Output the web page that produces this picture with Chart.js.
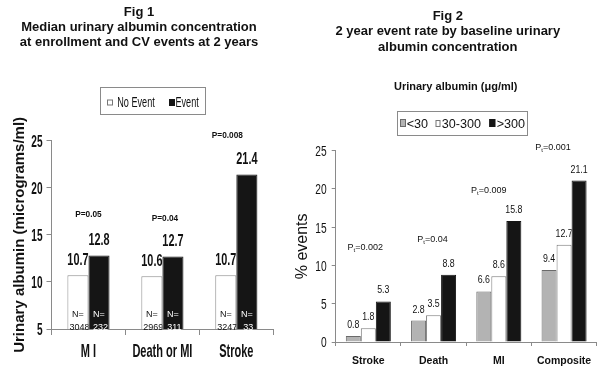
<!DOCTYPE html>
<html>
<head>
<meta charset="utf-8">
<script src="https://cdn.jsdelivr.net/npm/chart.js@4/dist/chart.umd.min.js"></script>
<style>
  html, body { margin: 0; padding: 0; background: #fff; }
  #wrap { position: relative; width: 601px; height: 371px; overflow: hidden; background: #fff; }
  #fig1 { position: absolute; left: 0; top: 0; }
  #fig2 { position: absolute; left: 285px; top: 0; }
</style>
</head>
<body>
<div id="wrap">
  <canvas id="fig1" width="300" height="371"></canvas>
  <canvas id="fig2" width="316" height="371"></canvas>
</div>
<script>
// ---- Fig 1: median urinary albumin by outcome ----
const fig1Title = ['Fig 1', 'Median urinary albumin concentration', 'at enrollment and CV events at 2 years'];
const fig1Categories = ['M I', 'Death or MI', 'Stroke'];
const fig1SeriesNames = ['No Event', 'Event'];
const fig1NoEvent = [10.7, 10.6, 10.7];
const fig1Event = [12.8, 12.7, 21.4];
const fig1NoEventN = ['3048', '2969', '3247'];
const fig1EventN = ['232', '311', '33'];
const fig1PValues = ['P=0.05', 'P=0.04', 'P=0.008'];
const fig1Ticks = [5, 10, 15, 20, 25];

// ---- Fig 2: 2-year event rate by baseline urinary albumin ----
const fig2Title = ['Fig 2', '2 year event rate by baseline urinary', 'albumin concentration'];
const fig2LegendTitle = 'Urinary albumin (\u03bcg/ml)';
const fig2Categories = ['Stroke', 'Death', 'MI', 'Composite'];
const fig2SeriesNames = ['<30', '30-300', '>300'];
const fig2Low = [0.8, 2.8, 6.6, 9.4];
const fig2Mid = [1.8, 3.5, 8.6, 12.7];
const fig2High = [5.3, 8.8, 15.8, 21.1];
const fig2PTrend = ['0.002', '0.04', '0.009', '0.001'];
const fig2Ticks = [0, 5, 10, 15, 20, 25];

// where the p-value notes sit (axis units) and their sideways nudge (px)
const fig1PAnchor = [{ y: 17.2, dx: 0 }, { y: 16.8, dx: 2.5 }, { y: 25.6, dx: -9 }];
const fig2PAnchor = [{ y: 12.4, dx: -3 }, { y: 13.5, dx: -1 }, { y: 19.9, dx: -10 }, { y: 25.5, dx: -11 }];

const FONT = '"Liberation Sans", Arial, Helvetica, sans-serif';
const AXIS = '#8a8a8a';
const INK = '#111';

function text(ctx, str, x, y, opts) {
  const o = Object.assign({ size: 12, weight: 'normal', color: INK, align: 'center', baseline: 'alphabetic', sx: 1 }, opts);
  ctx.save();
  ctx.font = o.weight + ' ' + o.size + 'px ' + FONT;
  ctx.fillStyle = o.color;
  ctx.textAlign = o.align;
  ctx.textBaseline = o.baseline;
  ctx.translate(x, y);
  ctx.scale(o.sx, 1);
  ctx.fillText(str, 0, 0);
  ctx.restore();
}

// visible bottom of a bar (bars rest on the axis floor)
function barFloor(chart, b) {
  return Math.min(b.base, chart.chartArea.bottom);
}

// value labels of one series are hidden behind the bars drawn to their right
function clipOutLaterBars(ctx, chart, di, i) {
  ctx.beginPath();
  ctx.rect(0, 0, chart.width, chart.height);
  for (let j = di + 1; j < chart.data.datasets.length; j++) {
    const b = chart.getDatasetMeta(j).data[i];
    ctx.rect(b.x - b.width / 2, b.y, b.width, barFloor(chart, b) - b.y);
  }
  ctx.clip('evenodd');
}

function swatch(ctx, x, y, w, h, fill, stroke) {
  ctx.save();
  ctx.fillStyle = fill;
  ctx.fillRect(x, y, w, h);
  ctx.strokeStyle = stroke;
  ctx.lineWidth = 1;
  ctx.strokeRect(x + 0.5, y + 0.5, w - 1, h - 1);
  ctx.restore();
}

function pTrendLabel(ctx, value, cx, baseY) {
  ctx.save();
  ctx.fillStyle = INK;
  ctx.textAlign = 'left';
  ctx.textBaseline = 'alphabetic';
  const big = 'normal 9px ' + FONT, small = 'normal 6px ' + FONT;
  ctx.font = big; const wP = ctx.measureText('P').width;
  const rest = '=' + value; const wR = ctx.measureText(rest).width;
  ctx.font = small; const wT = ctx.measureText('t').width;
  let x = cx - (wP + wT + wR) / 2;
  ctx.font = big; ctx.fillText('P', x, baseY); x += wP;
  ctx.font = small; ctx.fillText('t', x, baseY + 2); x += wT;
  ctx.font = big; ctx.fillText(rest, x, baseY);
  ctx.restore();
}

const fig1Decor = {
  id: 'fig1Decor',
  afterDraw(chart) {
    const ctx = chart.ctx, xs = chart.scales.x, ys = chart.scales.y;

    [15.7, 31.4, 46.4].forEach((by, k) => text(ctx, fig1Title[k], 139, by, { size: 13, weight: 'bold' }));

    // legend box
    ctx.save();
    ctx.strokeStyle = AXIS; ctx.lineWidth = 1;
    ctx.strokeRect(100.5, 87.5, 105, 27);
    ctx.restore();
    swatch(ctx, 107, 99.5, 6, 6, '#fff', '#777');
    text(ctx, fig1SeriesNames[0], 117.3, 106.5, { size: 14, sx: 0.65, align: 'left' });
    swatch(ctx, 169, 99, 6, 7, '#151515', '#151515');
    text(ctx, fig1SeriesNames[1], 175.5, 106.5, { size: 14, sx: 0.65, align: 'left' });

    // y tick labels
    ys.ticks.forEach(t => {
      text(ctx, String(t.value), xs.left - 9, ys.getPixelForValue(t.value) + 5.8, { size: 16, weight: 'bold', sx: 0.63, align: 'right' });
    });

    // category labels
    fig1Categories.forEach((c, i) => {
      text(ctx, c, xs.getPixelForValue(i), 357, { size: 19, weight: 'bold', sx: 0.58 });
    });

    const nLabels = [fig1NoEventN, fig1EventN];
    chart.data.datasets.forEach((ds, di) => {
      const meta = chart.getDatasetMeta(di);
      meta.data.forEach((b, i) => {
        const floor = barFloor(chart, b);
        // value above the bar
        ctx.save();
        clipOutLaterBars(ctx, chart, di, i);
        text(ctx, ds.data[i].toFixed(1), b.x, b.y - 10.5, { size: 17, weight: 'bold', sx: 0.64 });
        ctx.restore();
        // sample size inside the bar
        ctx.save();
        ctx.beginPath();
        ctx.rect(b.x - b.width / 2, b.y, b.width, floor - b.y + 1);
        ctx.clip();
        const col = di === 0 ? INK : '#fff';
        text(ctx, 'N=', b.x, floor - 12.3, { size: 9, color: col });
        text(ctx, nLabels[di][i], b.x + 1.5, floor + 0.5, { size: 9, color: col });
        ctx.restore();
      });
    });

    fig1PValues.forEach((p, i) => {
      const a = fig1PAnchor[i];
      text(ctx, p, xs.getPixelForValue(i) + a.dx, ys.getPixelForValue(a.y) + 3.2, { size: 9, weight: 'bold', sx: 0.92 });
    });
  }
};

const fig2Decor = {
  id: 'fig2Decor',
  afterDraw(chart) {
    const ctx = chart.ctx, xs = chart.scales.x, ys = chart.scales.y;
    const ox = 285; // canvas offset on the page

    [19.7, 35.4, 50.7].forEach((by, k) => text(ctx, fig2Title[k], 447.8 - ox, by, { size: 13, weight: 'bold' }));
    text(ctx, fig2LegendTitle, 455.7 - ox, 90, { size: 11, weight: 'bold' });

    // legend box
    ctx.save();
    ctx.strokeStyle = AXIS; ctx.lineWidth = 1;
    ctx.strokeRect(397.5 - ox, 111.5, 130, 24);
    ctx.restore();
    const sw = [
      { x: 400, y: 119, w: 6, h: 8, fill: '#b3b3b3', stroke: '#6a6a6a', tx: 406.7 },
      { x: 435.5, y: 120, w: 5, h: 7, fill: '#fff', stroke: '#777', tx: 441.7 },
      { x: 489.3, y: 119, w: 6, h: 8, fill: '#151515', stroke: '#151515', tx: 496.7 }
    ];
    sw.forEach((s, k) => {
      swatch(ctx, s.x - ox, s.y, s.w, s.h, s.fill, s.stroke);
      text(ctx, fig2SeriesNames[k], s.tx - ox, 128, { size: 13, sx: 0.97, align: 'left' });
    });

    ys.ticks.forEach(t => {
      text(ctx, String(t.value), xs.left - 9, ys.getPixelForValue(t.value) + 5.4, { size: 15, sx: 0.68, align: 'right' });
    });

    fig2Categories.forEach((c, i) => {
      text(ctx, c, xs.getPixelForValue(i), 364, { size: 10.5, weight: 'bold' });
    });

    chart.data.datasets.forEach((ds, di) => {
      chart.getDatasetMeta(di).data.forEach((b, i) => {
        ctx.save();
        clipOutLaterBars(ctx, chart, di, i);
        text(ctx, ds.data[i].toFixed(1), b.x, b.y - 8, { size: 11, sx: 0.8 });
        ctx.restore();
      });
    });

    fig2PTrend.forEach((p, i) => {
      const a = fig2PAnchor[i];
      pTrendLabel(ctx, p, xs.getPixelForValue(i) + a.dx, ys.getPixelForValue(a.y) + 3.2);
    });
  }
};

function axisStyle(tickLength) {
  return {
    grid: { display: true, drawOnChartArea: false, drawTicks: true, tickLength: tickLength, color: AXIS },
    border: { display: true, color: AXIS, width: 1 }
  };
}

// Fig 1 chart
const fig1X = axisStyle(6);
fig1X.grid.offset = true;
const fig1Y = axisStyle(5);
new Chart(document.getElementById('fig1'), {
  type: 'bar',
  data: {
    labels: fig1Categories,
    datasets: [
      { label: fig1SeriesNames[0], data: fig1NoEvent, backgroundColor: '#ffffff', borderColor: '#8c8c8c', borderWidth: 1 },
      { label: fig1SeriesNames[1], data: fig1Event, backgroundColor: '#151515', borderColor: '#151515', borderWidth: 1 }
    ]
  },
  options: {
    responsive: false,
    animation: false,
    devicePixelRatio: 1,
    layout: { padding: { left: 0, right: 26.7, top: 140.7, bottom: 0 } },
    datasets: { bar: { categoryPercentage: 0.57, barPercentage: 1 } },
    plugins: { legend: { display: false }, tooltip: { enabled: false }, title: { display: false } },
    scales: {
      x: Object.assign(fig1X, {
        ticks: { display: false },
        afterFit(s) { s.height = 42; }
      }),
      y: Object.assign(fig1Y, {
        min: fig1Ticks[0],
        max: fig1Ticks[fig1Ticks.length - 1],
        ticks: { stepSize: fig1Ticks[1] - fig1Ticks[0], display: false },
        title: {
          display: true,
          text: 'Urinary albumin (micrograms/ml)',
          color: INK,
          font: { family: FONT, size: 15, weight: 'bold' },
          padding: { top: 11, bottom: 0 }
        },
        afterFit(s) { s.width = 51.5; }
      })
    }
  },
  plugins: [fig1Decor]
});

// Fig 2 chart
const fig2X = axisStyle(4);
fig2X.grid.offset = true;
const fig2Y = axisStyle(4);
new Chart(document.getElementById('fig2'), {
  type: 'bar',
  data: {
    labels: fig2Categories,
    datasets: [
      { label: fig2SeriesNames[0], data: fig2Low, backgroundColor: '#b3b3b3', borderColor: '#6a6a6a', borderWidth: 1 },
      { label: fig2SeriesNames[1], data: fig2Mid, backgroundColor: '#ffffff', borderColor: '#7a7a7a', borderWidth: 1 },
      { label: fig2SeriesNames[2], data: fig2High, backgroundColor: '#151515', borderColor: '#151515', borderWidth: 1 }
    ]
  },
  options: {
    responsive: false,
    animation: false,
    devicePixelRatio: 1,
    layout: { padding: { left: 0, right: 4.3, top: 150.7, bottom: 0 } },
    datasets: { bar: { categoryPercentage: 0.69, barPercentage: 1 } },
    plugins: { legend: { display: false }, tooltip: { enabled: false }, title: { display: false } },
    scales: {
      x: Object.assign(fig2X, {
        ticks: { display: false },
        afterFit(s) { s.height = 29; }
      }),
      y: Object.assign(fig2Y, {
        min: fig2Ticks[0],
        max: fig2Ticks[fig2Ticks.length - 1],
        ticks: { stepSize: fig2Ticks[1] - fig2Ticks[0], display: false },
        title: {
          display: true,
          text: '% events',
          color: INK,
          font: { family: FONT, size: 16, weight: 'normal' },
          padding: { top: 8.4, bottom: 0 }
        },
        afterFit(s) { s.width = 50.7; }
      })
    }
  },
  plugins: [fig2Decor]
});
</script>
</body>
</html>
